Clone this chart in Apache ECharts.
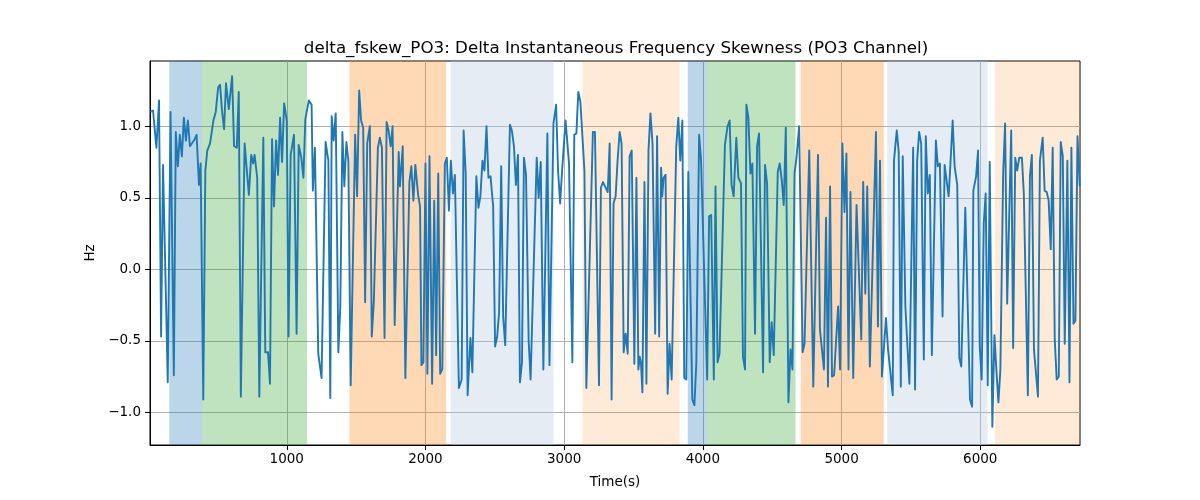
<!DOCTYPE html>
<html>
<head>
<meta charset="utf-8">
<script src="https://cdn.jsdelivr.net/npm/echarts@6/dist/echarts.min.js"></script>
<style>html,body{margin:0;padding:0;background:#fff}#c{width:1200px;height:500px}</style>
</head>
<body>
<div id="c"></div>
<script>
var times = [17,36,60,79,94,108,142,162,186,200,215,229,244,258,273,287,302,331,350,367,379,398,413,427,447,471,488,505,519,533,548,562,582,606,620,640,654,669,696,727,744,758,768,787,802,816,831,845,865,879,894,908,923,937,952,966,981,1000,1013,1028,1052,1071,1086,1105,1120,1134,
1159,1179,1188,1203,1227,1251,1280,1300,1314,1324,1338,1353,1372,1386,1401,1415,1430,1444,1461,1493,1507,1522,1536,1551,1565,1580,1599,1613,1628,1657,1671,1686,1705,1720,1734,1749,1763,1778,1792,1807,1816,1836,1855,1884,1898,1913,1927,1947,1961,1971,1985,2000,2014,2029,2048,2063,2077,2092,2106,2121,2140,2154,2169,2183,2198,2212,2241,
2261,2275,2290,2304,2324,2338,2367,2382,2396,2411,2425,2440,2454,2469,2488,2502,2517,2531,2546,2560,2575,2609,2623,2638,2652,2667,2681,2696,2710,2725,2744,2758,2802,2816,2831,2850,2879,2894,2923,2942,2956,2971,2985,3010,3035,3059,3073,3088,3102,3117,3146,3160,3207,3222,3251,3265,3280,3314,3328,
3342,3356,3371,3385,3400,3414,3429,3443,3458,3472,3487,3506,3521,3535,3545,3554,3564,3579,3593,3608,3622,3637,3656,3670,3685,3699,3707,3717,3731,3746,3760,3775,3808,3823,3837,3852,3866,3881,3895,3924,3939,3953,3973,3987,4031,4045,4060,4079,4091,4106,4120,4159,4178,4193,4207,4222,4241,4256,4275,4289,4304,4314,4328,4343,4357,4376,4391,4405,
4419,4434,4448,4463,4482,4496,4511,4540,4554,4569,4583,4598,4617,4632,4646,4661,4675,4694,4719,4733,4767,4796,4830,4844,4873,4888,4902,4917,4931,4946,4960,4975,4989,5006,5021,5035,5050,5064,5084,5098,5108,5142,5156,5171,5185,5204,5248,5262,5277,5291,5320,5335,5369,5378,5398,5412,5427,5441,5460,5489,
5516,5530,5545,5559,5574,5593,5607,5622,5636,5651,5680,5694,5709,5728,5743,5757,5772,5786,5801,5815,5834,5849,5863,5892,5926,5941,5950,5970,5984,5996,6010,6025,6039,6054,6068,6087,6102,6116,6131,6145,6165,6179,6194,6223,6237,6252,6266,6281,6300,6314,6343,6358,6372,6387,6416,6430,6450,6464,6479,6493,6508,6522,6537,6551,6566,6580,6595,6609,6628,6643,6657,6672,6686,6701,6717];

var values = [1.10,1.11,0.85,1.18,-0.47,0.73,-0.79,1.10,-0.74,0.96,0.72,0.94,0.79,1.06,0.90,1.04,0.86,0.90,0.94,0.59,0.74,-0.91,0.69,0.83,0.88,1.04,1.10,1.27,1.29,1.11,0.98,1.30,1.12,1.35,0.86,0.85,1.24,-0.89,0.88,0.52,0.80,0.74,0.80,0.64,-0.89,-0.88,0.92,-0.58,-0.58,-0.80,0.91,0.44,0.90,0.66,1.06,0.75,1.16,1.04,-0.47,0.80,0.94,-0.45,0.87,0.78,0.64,1.05,
1.18,1.15,0.55,0.85,-0.59,-0.76,0.89,0.76,-0.90,1.07,0.90,1.09,-0.58,-0.26,0.96,0.58,0.89,0.76,-0.81,0.94,0.51,1.25,1.04,0.99,-0.23,0.88,1.00,-0.47,-0.22,0.85,0.92,0.85,-0.48,1.03,0.97,0.86,1.00,-0.39,-0.39,0.82,0.58,0.86,-0.76,0.61,0.72,0.48,0.73,0.52,0.44,-0.67,-0.65,0.74,-0.73,0.79,-0.80,0.48,-0.60,0.67,-0.73,-0.70,0.74,0.78,0.41,0.76,0.53,0.66,-0.83,
-0.77,0.97,0.67,-0.88,-0.48,-0.72,0.65,0.43,0.51,0.76,0.69,1.00,0.64,0.65,0.44,-0.54,-0.47,-0.30,0.72,-0.33,-0.53,1.01,0.97,0.86,0.59,0.80,-0.79,-0.65,0.78,0.66,-0.50,-0.77,0.78,0.50,0.75,-0.70,0.95,-0.67,1.02,1.15,0.69,0.46,0.69,1.04,0.74,-0.65,0.94,0.95,1.24,1.17,0.69,-0.83,0.96,0.96,-0.81,0.57,0.61,0.54,0.88,
-0.91,0.46,0.51,0.76,0.96,0.88,-0.58,-0.45,-0.59,0.79,0.83,-0.66,0.64,-0.70,-0.61,-0.66,-0.86,0.61,-0.80,0.83,1.09,0.88,-0.45,0.93,-0.47,0.71,0.51,0.64,0.66,-0.87,-0.52,-0.77,0.86,1.06,0.76,1.04,-0.76,-0.77,0.68,-0.91,-0.95,-0.65,0.94,0.76,-0.77,0.37,0.38,-0.77,0.58,-0.65,-0.59,0.87,1.00,1.04,0.59,0.51,0.92,0.64,0.60,-0.61,-0.70,1.15,1.06,0.67,0.74,-0.45,0.86,0.95,
0.96,-0.72,0.73,0.60,-0.65,-0.37,-0.60,0.68,0.74,0.62,0.45,0.99,-0.93,-0.56,-0.70,0.67,0.78,1.00,-0.58,-0.52,0.83,-0.82,0.80,-0.42,-0.70,0.36,-0.82,0.58,-0.75,-0.74,-0.74,-0.26,-0.70,0.88,0.40,0.81,-0.70,0.54,-0.76,-0.77,0.45,-0.49,0.61,-0.17,0.58,-0.68,0.96,-0.40,0.76,-0.75,-0.34,-0.56,-0.88,0.76,0.97,0.82,-0.82,0.79,-0.26,-0.80,
0.85,-0.84,0.76,0.96,0.88,-0.63,0.93,0.53,0.66,-0.60,0.90,0.72,0.74,-0.33,0.73,0.72,0.51,0.76,1.04,0.72,0.59,-0.62,-0.68,0.43,-0.91,-0.96,0.55,0.65,0.83,-0.54,-0.77,0.32,0.53,-0.81,0.75,-1.10,-0.46,-0.70,-0.93,-0.70,0.67,1.02,-0.24,0.97,-0.55,0.78,0.69,0.78,0.78,0.53,-0.88,0.65,0.80,-0.56,-0.89,0.76,0.92,0.55,0.54,0.48,0.14,0.85,-0.49,-0.77,-0.75,0.89,0.79,-0.52,0.76,-0.79,0.85,-0.38,-0.36,0.93,0.58];

var bandStarts = [153, 389, 1452, 2181, 3131, 3891, 4030, 4706, 5329, 6106];
var bandEnds   = [389, 1147, 2150, 2924, 3833, 4030, 4668, 5305, 6053, 6719];
var bandKinds  = ['blue','green','orange','lightblue','lightorange','blue','green','orange','lightblue','lightorange'];

var xTicks = [1000, 2000, 3000, 4000, 5000, 6000];
var yTicks = [-1.0, -0.5, 0.0, 0.5, 1.0];

var titleText = 'delta_fskew_PO3: Delta Instantaneous Frequency Skewness (PO3 Channel)';
var xName = 'Time(s)';
var yName = 'Hz';

var kindColor = {
  blue: 'rgba(31,119,180,0.3)',
  green: 'rgba(44,160,44,0.3)',
  orange: 'rgba(255,127,14,0.3)',
  lightblue: 'rgba(176,196,222,0.32)',
  lightorange: 'rgba(255,127,14,0.16)'
};

var seriesData = times.map(function (t, i) { return [t, values[i]]; });
var areas = bandStarts.map(function (s, i) {
  return [{ xAxis: s, itemStyle: { color: kindColor[bandKinds[i]] } }, { xAxis: bandEnds[i] }];
});

var font = 'DejaVu Sans';
var chart = echarts.init(document.getElementById('c'), null, { renderer: 'canvas' });
chart.setOption({
  animation: false,
  backgroundColor: '#ffffff',
  title: {
    text: titleText,
    left: 611,
    top: 35,
    textAlign: 'center',
    textStyle: { fontFamily: font, fontSize: 16.7, fontWeight: 'normal', color: '#000' }
  },
  grid: { left: 150, right: 120, top: 61, bottom: 55, containLabel: false,
          show: true, borderColor: '#000', borderWidth: 1, backgroundColor: 'transparent' },
  xAxis: {
    type: 'value',
    min: 14, max: 6719,
    name: xName, nameLocation: 'middle', nameGap: 30,
    nameTextStyle: { fontFamily: font, fontSize: 13.5, color: '#000' },
    axisLine: { show: true, onZero: false, lineStyle: { color: '#000', width: 1 } },
    axisTick: { show: true, inside: false, length: 5, customValues: xTicks, lineStyle: { color: '#000', width: 1 } },
    axisLabel: { customValues: xTicks, margin: 7, fontFamily: font, fontSize: 13.5, color: '#000',
      formatter: function (v) { return String(Math.round(v)); } },
    splitLine: { show: true, lineStyle: { color: '#b0b0b0', width: 1 } }
  },
  yAxis: {
    type: 'value',
    min: -1.228, max: 1.456,
    name: yName, nameLocation: 'middle', nameGap: 50, nameRotate: 90,
    nameTextStyle: { fontFamily: font, fontSize: 13.5, color: '#000' },
    axisLine: { show: true, onZero: false, lineStyle: { color: '#000', width: 1 } },
    axisTick: { show: true, inside: false, length: 5, customValues: yTicks, lineStyle: { color: '#000', width: 1 } },
    axisLabel: { customValues: yTicks, margin: 9, fontFamily: font, fontSize: 13.5, color: '#000',
      formatter: function (v) { var s = Math.abs(v).toFixed(1); return (v < -1e-9 ? '\u2212' : '') + s; } },
    splitLine: { show: true, lineStyle: { color: '#b0b0b0', width: 1 } }
  },
  series: [{
    type: 'line',
    data: seriesData,
    showSymbol: false,
    symbol: 'none',
    clip: true,
    lineStyle: { color: '#1f77b4', width: 1.9, join: 'round' },
    itemStyle: { color: '#1f77b4' },
    markArea: { silent: true, data: areas, z: 1 },
    z: 3
  }]
});
</script>
</body>
</html>
